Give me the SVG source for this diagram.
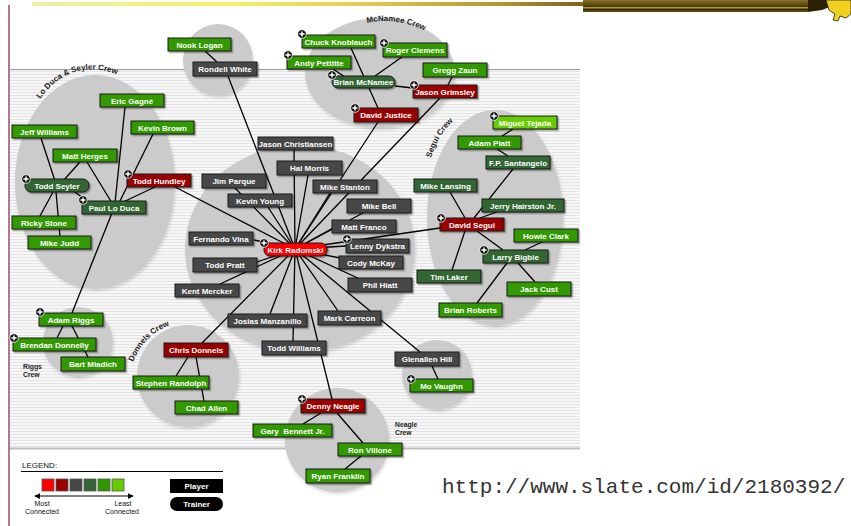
<svg xmlns="http://www.w3.org/2000/svg" xmlns:xlink="http://www.w3.org/1999/xlink" width="851" height="526" viewBox="0 0 851 526">
<style>
.nb{stroke:#1a1a1a;stroke-width:1;filter:url(#sh)}
.g{fill:#339900}.lg{fill:#66cc00}.dg{fill:#336633}.gr{fill:#474747}.dr{fill:#990000}.r{fill:#ff0000}
.t{font-family:"Liberation Sans",Arial,sans-serif;font-weight:bold;font-size:8px;fill:#fff;text-anchor:middle}
.crew{fill:#cbcbcb}
.cl{font-family:"Liberation Sans",Arial,sans-serif;font-weight:bold;font-size:8px;fill:#222}
.cs{font-family:"Liberation Sans",Arial,sans-serif;font-weight:bold;font-size:6.8px;fill:#222}
.lt{font-family:"Liberation Sans",Arial,sans-serif;font-size:8px;fill:#111}
.ls{font-family:"Liberation Sans",Arial,sans-serif;font-size:7px;fill:#111;text-anchor:middle}
#links line{stroke:#000;stroke-width:1.3}
</style>
<defs>
<pattern id="stripes" width="4" height="3" patternUnits="userSpaceOnUse"><rect width="4" height="3" fill="#f7f7f7"/><rect y="2" width="4" height="1" fill="#e3e3e3"/></pattern>
<filter id="sh" x="-10%" y="-30%" width="130%" height="180%"><feDropShadow dx="1.5" dy="1.5" stdDeviation="0.7" flood-color="#000" flood-opacity="0.35"/></filter>
<filter id="csh" x="-10%" y="-10%" width="130%" height="130%"><feDropShadow dx="1" dy="2" stdDeviation="1.5" flood-color="#000" flood-opacity="0.15"/></filter>
<linearGradient id="topbar" x1="0" x2="1" y1="0" y2="0"><stop offset="0" stop-color="#eeeeaa"/><stop offset="0.35" stop-color="#f6f26a"/><stop offset="0.6" stop-color="#e0cc50"/><stop offset="0.85" stop-color="#b89430"/><stop offset="1" stop-color="#806020"/></linearGradient>
<linearGradient id="darkbar" x1="0" x2="0" y1="0" y2="1"><stop offset="0" stop-color="#8a7226"/><stop offset="0.55" stop-color="#4a3a0c"/><stop offset="0.65" stop-color="#d4b640"/><stop offset="0.75" stop-color="#2e2406"/><stop offset="1" stop-color="#6a5618"/></linearGradient>
<g id="plus"><circle r="4.3" fill="#111" stroke="#fff" stroke-width="0.8"/><path d="M-2.6 0H2.6M0 -2.6V2.6" stroke="#fff" stroke-width="1.5"/></g>
<marker id="ah" viewBox="0 0 8 8" refX="7" refY="4" markerWidth="6" markerHeight="6" orient="auto-start-reverse"><path d="M0 0L8 4L0 8z" fill="#000"/></marker>
<path id="p-loduca" d="M40,99 Q74,52 130,80"/>
<path id="p-mcnamee" d="M367,23 Q398,16 432,34"/>
<path id="p-segui" d="M431,158 Q440,128 464,113"/>
<path id="p-donnels" d="M133,362 Q146,330 180,322"/>
</defs>

<!-- page background -->
<rect width="851" height="526" fill="#fff"/>
<rect x="32" y="2" width="551" height="4" fill="url(#topbar)"/>
<rect x="583" y="0" width="225" height="12" fill="url(#darkbar)"/>
<path d="M808 0H836L832 6L822 10L808 12Z" fill="#2a2004"/>
<path d="M826 0H851V14L846 18L840 16L838 21L833 20L835 14L829 10Z" fill="#f0d020" stroke="#222" stroke-width="0.8"/>
<line x1="9" y1="5" x2="9" y2="526" stroke="#9a4a6e" stroke-width="1.5"/>

<!-- chart area -->
<rect x="10" y="69" width="570" height="379" fill="url(#stripes)"/>
<line x1="10" y1="69.5" x2="580" y2="69.5" stroke="#9a9a9a" stroke-width="1"/>
<line x1="10" y1="448.5" x2="580" y2="448.5" stroke="#bdbdbd" stroke-width="2"/>

<!-- crew areas -->
<g id="crews" filter="url(#csh)">
<ellipse class="crew" cx="218" cy="60" rx="35" ry="36"/>
<ellipse class="crew" cx="95" cy="182" rx="80" ry="107"/>
<ellipse class="crew" cx="380" cy="73" rx="75" ry="55"/>
<ellipse class="crew" cx="495" cy="218" rx="68" ry="108"/>
<ellipse class="crew" cx="300" cy="249" rx="115" ry="104"/>
<circle class="crew" cx="78" cy="342" r="35"/>
<circle class="crew" cx="188" cy="376" r="51"/>
<circle class="crew" cx="437" cy="375" r="35"/>
<circle class="crew" cx="337" cy="440" r="52"/>
</g>

<!-- crew labels -->
<g id="crew-labels">
<text class="cl"><textPath href="#p-loduca">Lo Duca &amp; Seyler Crew</textPath></text>
<text class="cl"><textPath href="#p-mcnamee">McNamee Crew</textPath></text>
<text class="cl"><textPath href="#p-segui">Segui Crew</textPath></text>
<text class="cl"><textPath href="#p-donnels">Donnels Crew</textPath></text>
<text class="cs" x="23" y="369">Riggs</text>
<text class="cs" x="23" y="377">Crew</text>
<text class="cs" x="395" y="427">Neagle</text>
<text class="cs" x="395" y="435">Crew</text>
</g>

<!-- connectors -->
<g id="links">
<line x1="41" y1="138" x2="55" y2="181"/>
<line x1="80" y1="162" x2="63" y2="181"/>
<line x1="87" y1="162" x2="112" y2="203"/>
<line x1="125" y1="107" x2="115" y2="203"/>
<line x1="153" y1="134" x2="119" y2="203"/>
<line x1="155" y1="187" x2="121" y2="203"/>
<line x1="72" y1="190" x2="90" y2="203"/>
<line x1="40" y1="216" x2="53" y2="192"/>
<line x1="60" y1="236" x2="56" y2="192"/>
<line x1="112" y1="213" x2="72" y2="313"/>
<line x1="63" y1="326" x2="57" y2="338"/>
<line x1="72" y1="326" x2="88" y2="357"/>
<line x1="205" y1="51" x2="217" y2="62"/>
<!-- Kirk spokes -->
<line x1="175" y1="187" x2="295" y2="249"/>
<line x1="228" y1="76" x2="295" y2="249"/>
<line x1="294" y1="150" x2="295" y2="249"/>
<line x1="308" y1="175" x2="295" y2="249"/>
<line x1="235" y1="188" x2="295" y2="249"/>
<line x1="268" y1="207" x2="295" y2="249"/>
<line x1="254" y1="240" x2="295" y2="249"/>
<line x1="257" y1="262" x2="295" y2="249"/>
<line x1="220" y1="284" x2="295" y2="249"/>
<line x1="270" y1="314" x2="295" y2="249"/>
<line x1="202" y1="343" x2="295" y2="249"/>
<line x1="293" y1="341" x2="295" y2="249"/>
<line x1="332" y1="399" x2="295" y2="249"/>
<line x1="338" y1="311" x2="295" y2="249"/>
<line x1="420" y1="352" x2="295" y2="249"/>
<line x1="362" y1="280" x2="295" y2="249"/>
<line x1="340" y1="258" x2="295" y2="249"/>
<line x1="346" y1="246" x2="295" y2="249"/>
<line x1="440" y1="228" x2="295" y2="249"/>
<line x1="333" y1="228" x2="295" y2="249"/>
<line x1="363" y1="213" x2="295" y2="249"/>
<line x1="330" y1="193" x2="295" y2="249"/>
<line x1="378" y1="122" x2="295" y2="249"/>
<line x1="440" y1="98" x2="295" y2="249"/>
<!-- McNamee crew -->
<line x1="351" y1="48" x2="378" y2="108"/>
<line x1="402" y1="57" x2="375" y2="76"/>
<line x1="333" y1="69" x2="345" y2="77"/>
<line x1="395" y1="86" x2="413" y2="88"/>
<line x1="452" y1="77" x2="448" y2="85"/>
<!-- Segui crew -->
<line x1="513" y1="129" x2="502" y2="136"/>
<line x1="497" y1="149" x2="508" y2="156"/>
<line x1="513" y1="169" x2="474" y2="218"/>
<line x1="497" y1="212" x2="480" y2="218"/>
<line x1="450" y1="192" x2="465" y2="218"/>
<line x1="465" y1="231" x2="452" y2="270"/>
<line x1="477" y1="231" x2="503" y2="250"/>
<line x1="542" y1="242" x2="525" y2="250"/>
<line x1="518" y1="263" x2="535" y2="282"/>
<line x1="507" y1="263" x2="477" y2="303"/>
<!-- others -->
<line x1="432" y1="366" x2="438" y2="379"/>
<line x1="321" y1="413" x2="303" y2="424"/>
<line x1="337" y1="413" x2="363" y2="443"/>
<line x1="361" y1="456" x2="345" y2="469"/>
<line x1="188" y1="357" x2="176" y2="376"/>
<line x1="196" y1="357" x2="204" y2="401"/>
</g>

<!-- nodes -->
<g id="n-nook-logan"><rect class="nb g" x="168" y="38" width="63" height="13"/><text class="t" x="199.5" y="47.5">Nook Logan</text></g>
<g id="n-rondell-white"><rect class="nb gr" x="193" y="62" width="64" height="14"/><text class="t" x="225" y="72">Rondell White</text></g>
<g id="n-eric-gagne"><rect class="nb g" x="100" y="94" width="64" height="13"/><text class="t" x="132" y="103.5">Eric Gagné</text></g>
<g id="n-kevin-brown"><rect class="nb g" x="131" y="121" width="63" height="13"/><text class="t" x="162.5" y="130.5">Kevin Brown</text></g>
<g id="n-jeff-williams"><rect class="nb g" x="12" y="125" width="65" height="13"/><text class="t" x="44.5" y="134.5">Jeff Williams</text></g>
<g id="n-matt-herges"><rect class="nb g" x="53" y="149" width="64" height="13"/><text class="t" x="85" y="158.5">Matt Herges</text></g>
<g id="n-todd-seyler"><rect class="nb dg" x="25" y="179" width="64" height="13" rx="6"/><text class="t" x="57" y="188.5">Todd Seyler</text><use href="#plus" x="26" y="179"/></g>
<g id="n-todd-hundley"><rect class="nb dr" x="127" y="174" width="64" height="13"/><text class="t" x="159" y="183.5">Todd Hundley</text><use href="#plus" x="128" y="174"/></g>
<g id="n-paul-lo-duca"><rect class="nb dg" x="82" y="201" width="64" height="13"/><text class="t" x="114" y="210.5">Paul Lo Duca</text><use href="#plus" x="83" y="200"/></g>
<g id="n-ricky-stone"><rect class="nb g" x="12" y="216" width="64" height="13"/><text class="t" x="44" y="225.5">Ricky Stone</text></g>
<g id="n-mike-judd"><rect class="nb g" x="28" y="236" width="63" height="13"/><text class="t" x="59.5" y="245.5">Mike Judd</text></g>
<g id="n-jim-parque"><rect class="nb gr" x="202" y="174" width="64" height="14"/><text class="t" x="234" y="184">Jim Parque</text></g>
<g id="n-kevin-young"><rect class="nb gr" x="228" y="194" width="64" height="13"/><text class="t" x="260" y="203.5">Kevin Young</text></g>
<g id="n-fernando-vina"><rect class="nb gr" x="189" y="232" width="64" height="13"/><text class="t" x="221" y="241.5">Fernando Vina</text></g>
<g id="n-todd-pratt"><rect class="nb gr" x="193" y="258" width="64" height="14"/><text class="t" x="225" y="268">Todd Pratt</text></g>
<g id="n-kent-mercker"><rect class="nb gr" x="175" y="284" width="64" height="13"/><text class="t" x="207" y="293.5">Kent Mercker</text></g>
<g id="n-adam-riggs"><rect class="nb g" x="39" y="313" width="64" height="13"/><text class="t" x="71" y="322.5">Adam Riggs</text><use href="#plus" x="40" y="312"/></g>
<g id="n-brendan-donnelly"><rect class="nb g" x="13" y="338" width="83" height="13"/><text class="t" x="54.5" y="347.5">Brendan Donnelly</text><use href="#plus" x="14" y="338"/></g>
<g id="n-bart-miadich"><rect class="nb g" x="61" y="357" width="64" height="14"/><text class="t" x="93" y="367">Bart Miadich</text></g>
<g id="n-josias-manzanillo"><rect class="nb gr" x="228" y="314" width="79" height="13"/><text class="t" x="267.5" y="323.5">Josias Manzanillo</text></g>
<g id="n-jason-christiansen"><rect class="nb gr" x="258" y="137" width="75" height="13"/><text class="t" x="295.5" y="146.5">Jason Christiansen</text></g>
<g id="n-hal-morris"><rect class="nb gr" x="277" y="161" width="65" height="14"/><text class="t" x="309.5" y="171">Hal Morris</text></g>
<g id="n-mike-stanton"><rect class="nb gr" x="313" y="180" width="64" height="13"/><text class="t" x="345" y="189.5">Mike Stanton</text></g>
<g id="n-mike-bell"><rect class="nb gr" x="347" y="199" width="64" height="14"/><text class="t" x="379" y="209">Mike Bell</text></g>
<g id="n-matt-franco"><rect class="nb gr" x="332" y="220" width="64" height="13"/><text class="t" x="364" y="229.5">Matt Franco</text></g>
<g id="n-lenny-dykstra"><rect class="nb gr" x="346" y="239" width="63" height="14"/><text class="t" x="377.5" y="249">Lenny Dykstra</text><use href="#plus" x="347" y="239"/></g>
<g id="n-cody-mckay"><rect class="nb gr" x="339" y="256" width="64" height="13"/><text class="t" x="371" y="265.5">Cody McKay</text></g>
<g id="n-phil-hiatt"><rect class="nb gr" x="348" y="278" width="64" height="14"/><text class="t" x="380" y="288">Phil Hiatt</text></g>
<g id="n-mark-carreon"><rect class="nb gr" x="318" y="311" width="63" height="14"/><text class="t" x="349.5" y="321">Mark Carreon</text></g>
<g id="n-todd-williams"><rect class="nb gr" x="262" y="341" width="64" height="14"/><text class="t" x="294" y="351">Todd Williams</text></g>
<g id="n-kirk-radomski"><rect class="nb r" x="264" y="243" width="63" height="13" rx="6"/><text class="t" x="295.5" y="252.5">Kirk Radomski</text><use href="#plus" x="264" y="243"/></g>
<g id="n-glenallen-hill"><rect class="nb gr" x="395" y="352" width="64" height="14"/><text class="t" x="427" y="362">Glenallen Hill</text></g>
<g id="n-mo-vaughn"><rect class="nb g" x="410" y="379" width="63" height="13"/><text class="t" x="441.5" y="388.5">Mo Vaughn</text><use href="#plus" x="411" y="379"/></g>
<g id="n-denny-neagle"><rect class="nb dr" x="301" y="399" width="64" height="14"/><text class="t" x="333" y="409">Denny Neagle</text><use href="#plus" x="302" y="399"/></g>
<g id="n-gary-bennett"><rect class="nb g" x="253" y="424" width="79" height="13"/><text class="t" x="292.5" y="433.5" xml:space="preserve">Gary  Bennett Jr.</text></g>
<g id="n-ron-villone"><rect class="nb g" x="338" y="443" width="64" height="13"/><text class="t" x="370" y="452.5">Ron Villone</text></g>
<g id="n-ryan-franklin"><rect class="nb g" x="306" y="469" width="64" height="14"/><text class="t" x="338" y="479">Ryan Franklin</text></g>
<g id="n-chris-donnels"><rect class="nb dr" x="164" y="343" width="64" height="14"/><text class="t" x="196" y="353">Chris Donnels</text></g>
<g id="n-stephen-randolph"><rect class="nb g" x="133" y="376" width="76" height="13"/><text class="t" x="171" y="385.5">Stephen Randolph</text></g>
<g id="n-chad-allen"><rect class="nb g" x="175" y="401" width="63" height="13"/><text class="t" x="206.5" y="410.5">Chad Allen</text></g>
<g id="n-chuck-knoblauch"><rect class="nb g" x="302" y="35" width="73" height="13"/><text class="t" x="338.5" y="44.5">Chuck Knoblauch</text><use href="#plus" x="302" y="34"/></g>
<g id="n-roger-clemens"><rect class="nb g" x="383" y="43" width="64" height="14"/><text class="t" x="415" y="53">Roger Clemens</text><use href="#plus" x="384" y="43"/></g>
<g id="n-andy-pettitte"><rect class="nb g" x="287" y="56" width="64" height="13"/><text class="t" x="319" y="65.5">Andy Pettitte</text><use href="#plus" x="288" y="55"/></g>
<g id="n-gregg-zaun"><rect class="nb g" x="423" y="63" width="64" height="14"/><text class="t" x="455" y="73">Gregg Zaun</text></g>
<g id="n-brian-mcnamee"><rect class="nb dg" x="332" y="76" width="63" height="12" rx="6"/><text class="t" x="363.5" y="85">Brian McNamee</text><use href="#plus" x="332" y="75"/></g>
<g id="n-jason-grimsley"><rect class="nb dr" x="413" y="85" width="64" height="13"/><text class="t" x="445" y="94.5">Jason Grimsley</text><use href="#plus" x="414" y="85"/></g>
<g id="n-david-justice"><rect class="nb dr" x="354" y="108" width="64" height="14"/><text class="t" x="386" y="118">David Justice</text><use href="#plus" x="355" y="108"/></g>
<g id="n-miguel-tejada"><rect class="nb lg" x="493" y="116" width="64" height="13"/><text class="t" x="525" y="125.5">Miguel Tejada</text><use href="#plus" x="494" y="116"/></g>
<g id="n-adam-piatt"><rect class="nb g" x="458" y="136" width="63" height="13"/><text class="t" x="489.5" y="145.5">Adam Piatt</text></g>
<g id="n-fp-santangelo"><rect class="nb dg" x="486" y="156" width="64" height="13"/><text class="t" x="518" y="165.5">F.P. Santangelo</text></g>
<g id="n-mike-lansing"><rect class="nb dg" x="414" y="179" width="63" height="13"/><text class="t" x="445.5" y="188.5">Mike Lansing</text></g>
<g id="n-jerry-hairston"><rect class="nb dg" x="482" y="199" width="82" height="13"/><text class="t" x="523" y="208.5">Jerry Hairston Jr.</text></g>
<g id="n-david-segui"><rect class="nb dr" x="440" y="218" width="64" height="13"/><text class="t" x="472" y="227.5">David Segui</text><use href="#plus" x="441" y="218"/></g>
<g id="n-howie-clark"><rect class="nb g" x="514" y="229" width="64" height="13"/><text class="t" x="546" y="238.5">Howie Clark</text></g>
<g id="n-larry-bigbie"><rect class="nb dg" x="483" y="250" width="65" height="13"/><text class="t" x="515.5" y="259.5">Larry Bigbie</text><use href="#plus" x="484" y="250"/></g>
<g id="n-tim-laker"><rect class="nb dg" x="417" y="270" width="64" height="13"/><text class="t" x="449" y="279.5">Tim Laker</text></g>
<g id="n-jack-cust"><rect class="nb g" x="507" y="282" width="64" height="14"/><text class="t" x="539" y="292">Jack Cust</text></g>
<g id="n-brian-roberts"><rect class="nb g" x="439" y="303" width="63" height="14"/><text class="t" x="470.5" y="313">Brian Roberts</text></g>

<!-- legend -->
<g id="legend">
<text class="lt" x="22" y="468">LEGEND:</text>
<line x1="21" y1="471.5" x2="223" y2="471.5" stroke="#000" stroke-width="1"/>
<g stroke="#555" stroke-width="0.8">
<rect x="42" y="479" width="12" height="12" fill="#ff0000"/>
<rect x="56" y="479" width="12" height="12" fill="#990000"/>
<rect x="70" y="479" width="12" height="12" fill="#474747"/>
<rect x="84" y="479" width="12" height="12" fill="#336633"/>
<rect x="98" y="479" width="12" height="12" fill="#339900"/>
<rect x="112" y="479" width="12" height="12" fill="#66cc00"/>
</g>
<line x1="35" y1="496" x2="133" y2="496" stroke="#000" stroke-width="1" marker-start="url(#ah)" marker-end="url(#ah)"/>
<text class="ls" x="42" y="506">Most</text>
<text class="ls" x="42" y="514">Connected</text>
<text class="ls" x="123" y="506">Least</text>
<text class="ls" x="122" y="514">Connected</text>
<rect x="170" y="479" width="53" height="14" fill="#000"/>
<text class="t" x="196.5" y="488.5" font-size="6.5">Player</text>
<rect x="170" y="497" width="53" height="14" rx="7" fill="#000"/>
<text class="t" x="196.5" y="506.5" font-size="6.5">Trainer</text>
</g>

<text x="442" y="493" font-family="'Liberation Mono','Courier New',monospace" font-size="21" fill="#333">http://www.slate.com/id/2180392/</text>
</svg>
